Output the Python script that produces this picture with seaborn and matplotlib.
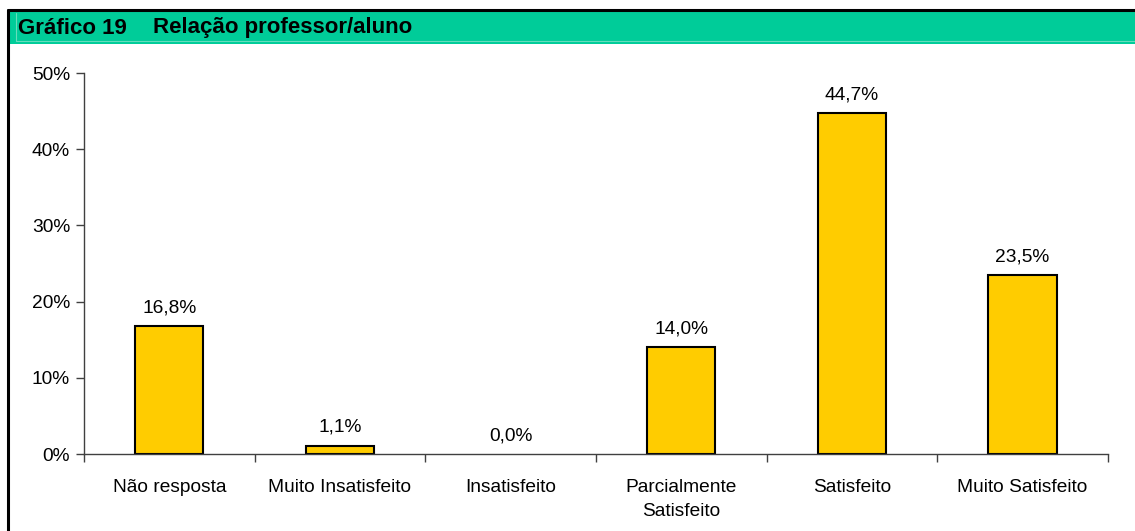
import matplotlib
matplotlib.use("Agg")
import matplotlib.pyplot as plt
import seaborn as sns
import pandas as pd
from matplotlib.patches import Rectangle
from matplotlib.lines import Line2D
from matplotlib.ticker import FuncFormatter, MultipleLocator

categories = ["Não resposta", "Muito Insatisfeito", "Insatisfeito",
              "Parcialmente\nSatisfeito", "Satisfeito", "Muito Satisfeito"]
values = [16.8, 1.1, 0.0, 14.0, 44.7, 23.5]
title_num = "Gráfico 19"
title_txt = "Relação professor/aluno"

sns.set_theme(style="white")
plt.rcParams['font.family'] = ['Liberation Sans', 'DejaVu Sans']

df = pd.DataFrame({"cat": categories, "val": values})

fig = plt.figure(figsize=(11.35, 5.31), dpi=100)
ax = fig.add_axes([0.074, 0.145, 0.902, 0.7175])

sns.barplot(data=df, x="cat", y="val", color="#FFCC00", width=0.4,
            edgecolor="black", linewidth=1.5, saturation=1, ax=ax)
# zero-height bar is not drawn visibly in the reference
for p, v in zip(ax.patches, values):
    if v == 0:
        p.set_visible(False)

ax.set_ylim(0, 50)
ax.set_xlim(-0.5, len(categories) - 0.5)
ax.yaxis.set_major_locator(MultipleLocator(10))
ax.yaxis.set_major_formatter(FuncFormatter(lambda v, p: f"{int(round(v))}%"))
ax.set_xlabel("")
ax.set_ylabel("")
for s in ["top", "right"]:
    ax.spines[s].set_visible(False)
for s in ["left", "bottom"]:
    ax.spines[s].set_color("#404040")
    ax.spines[s].set_linewidth(1.0)
    ax.spines[s].set_zorder(5)

ax.tick_params(axis="y", left=True, length=6, width=1, color="#404040",
               labelsize=13.8, labelcolor="black", pad=4)
ax.tick_params(axis="x", bottom=False, labelsize=13.8, labelcolor="black", pad=12)
for lbl in ax.get_xticklabels():
    lbl.set_linespacing(1.55)
# category boundary ticks on x
ax.set_xticks([i - 0.5 for i in range(len(categories) + 1)], minor=True)
ax.tick_params(axis="x", which="minor", bottom=True, length=6, width=1,
               color="#404040", direction="out")

for i, v in enumerate(values):
    ax.text(i, v + 1.3, f"{v:.1f}".replace(".", ",") + "%",
            ha="center", va="bottom", fontsize=13.8, color="black")

# title bar
fig.patches.append(Rectangle((8 / 1135, 1 - 44 / 531), 1 - 8 / 1135, 34 / 531,
                             transform=fig.transFigure, facecolor="#00CC99",
                             edgecolor="none", zorder=0))
fig.lines.append(Line2D([16 / 1135, 1], [1 - 41 / 531, 1 - 41 / 531],
                        transform=fig.transFigure, color="#66DDBB", lw=0.8))
fig.lines.append(Line2D([16 / 1135, 16 / 1135], [1 - 13 / 531, 1 - 41 / 531],
                        transform=fig.transFigure, color="#66DDBB", lw=0.8))
# borders
fig.lines.append(Line2D([8 / 1135, 1], [1 - 10 / 531, 1 - 10 / 531],
                        transform=fig.transFigure, color="black", lw=2.2))
fig.lines.append(Line2D([8 / 1135, 8 / 1135], [0, 1 - 10 / 531],
                        transform=fig.transFigure, color="black", lw=2.2))

fig.text(18 / 1135, 1 - 28 / 531, title_num, fontsize=16, fontweight="bold",
         va="center", ha="left", color="black")
fig.text(153 / 1135, 1 - 28 / 531, title_txt, fontsize=16, fontweight="bold",
         va="center", ha="left", color="black")

fig.savefig("out.png", dpi=100)
